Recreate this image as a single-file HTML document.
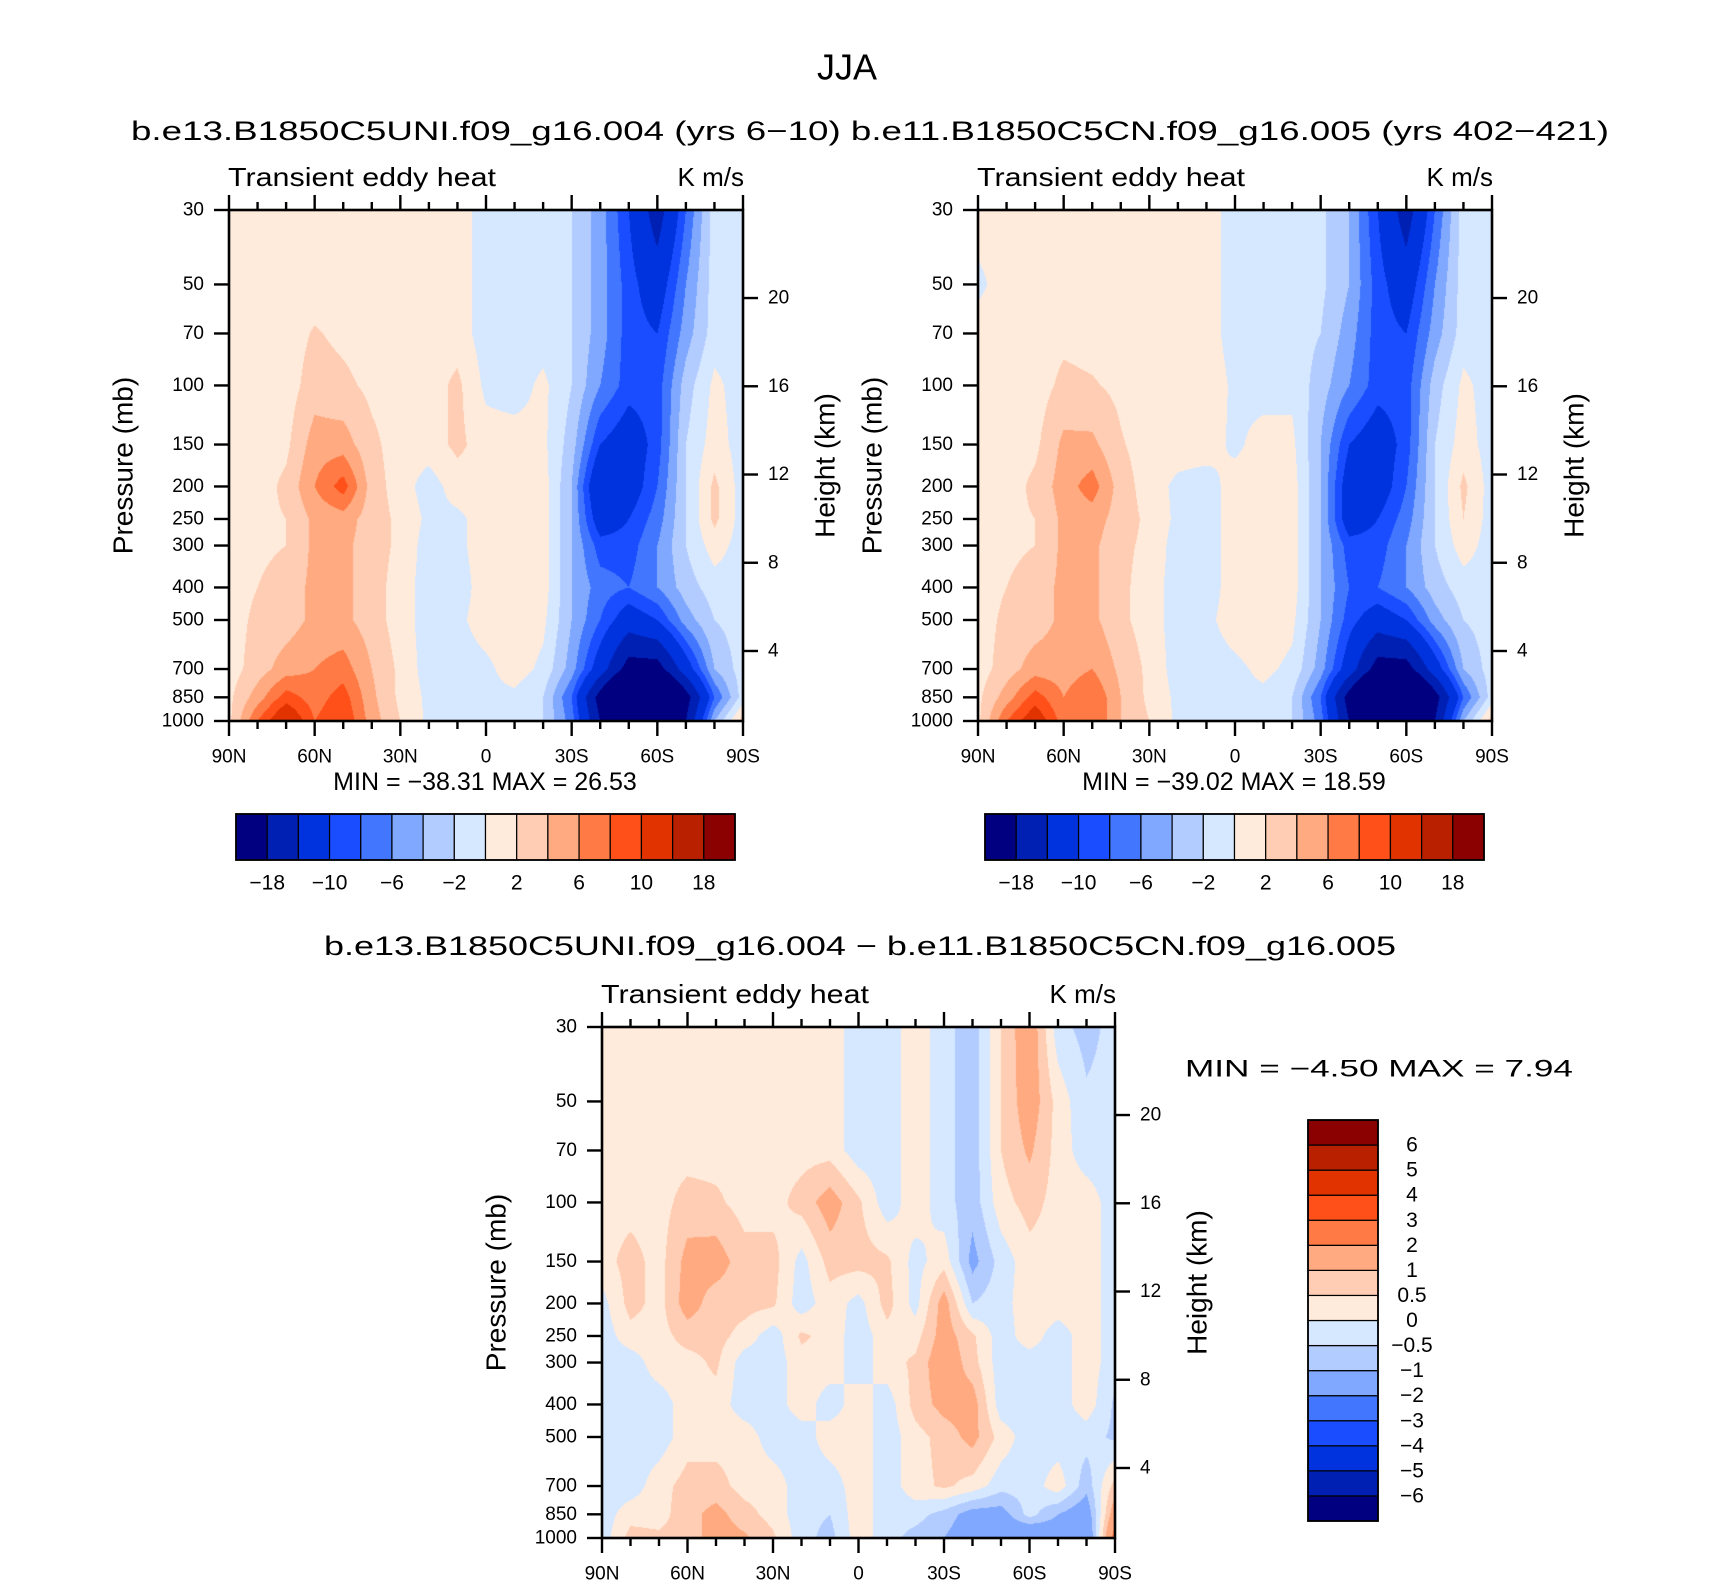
<!DOCTYPE html>
<html><head><meta charset="utf-8"><title>JJA Transient eddy heat</title>
<style>
html,body{margin:0;padding:0;background:#fff;}
#root{position:relative;width:1710px;height:1587px;overflow:hidden;background:#fff;}
canvas{position:absolute;}
svg{position:absolute;left:0;top:0;}
text{font-family:"Liberation Sans",sans-serif;fill:#000;}
</style></head>
<body>
<div id="root">
<canvas id="cA"></canvas>
<canvas id="cB"></canvas>
<canvas id="cC"></canvas>
<svg id="ov" width="1710" height="1587"></svg>
</div>
<script>
// ---- data ----
const lats = ["90N","80N","70N","60N","50N","40N","30N","20N","10N","0","10S","20S","30S","40S","50S","60S","70S","80S","90S"];
const plevs = [30,50,70,100,150,200,250,300,400,500,700,850,1000];
const pTickLabels = ["30","50","70","100","150","200","250","300","400","500","700","850","1000"];
const latTickLabels = ["90N","60N","30N","0","30S","60S","90S"];
const heightTicks = [4,8,12,16,20];
const levelsMain = [-18,-14,-10,-8,-6,-4,-2,0,2,4,6,8,10,14,18];
const levelsMainLabels = ["−18","","−10","","−6","","−2","","2","","6","","10","","18"];
const levelsDiff = [-6,-5,-4,-3,-2,-1,-0.5,0,0.5,1,2,3,4,5,6];
const levelsDiffLabels = ["−6","−5","−4","−3","−2","−1","−0.5","0","0.5","1","2","3","4","5","6"];
const palette = ["#000080","#0020b4","#0033dd","#1a4dff","#4276ff","#80a8ff","#b3ccff","#d6e8ff","#ffebdb","#ffcdb3","#ffaa80","#ff7a45","#ff5019","#e03300","#b82000","#8b0000"];

const panelA = [
[1,1,1,1,1,1,1,1,1,-1,-1,-1,-2,-5,-10,-16,-8,-1,-1],
[1,1,1,1,1,1,1,1,1,-1,-1,-1,-2,-5,-9,-12,-6,-1,-1],
[1,1,1,2.2,1.5,1,1,1,1,-1,-1,-1,-2,-5,-9,-10,-5,-1,-1],
[1,1,1,3,2.5,1.5,1,1,2.5,-0.5,-1,0.5,-2,-6,-9,-9,-3,0.5,-1],
[1,1,1.5,5,5,2.5,1,1,2.5,1,1,0.5,-3,-10,-12,-9,-2,1,-1],
[1,1,2.5,6,9,3,1,-1,1,1,1,1,-4,-14,-12,-8,-2,2.5,-1],
[1,1.5,2,4.5,5,3,1.5,-0.5,-0.5,1,1,1,-4,-12,-10,-7,-2,2.5,-1],
[1,1.5,2,4.5,4.5,3,1.5,-1,-0.5,1,1,1,-4,-9,-9,-6,-2,1,-1],
[1,2,3,4.5,4.5,3,1,-1,-1,1,1.5,1,-4,-7,-8,-6,-3,-1,-1],
[1,2.5,3,4.5,4.5,3,1,-1,-0.5,1,1.5,0.5,-4,-8,-12,-10,-5,-2,-1],
[1,3,5,6,7,4,1.5,-1,-1,-0.5,1,-0.5,-5,-12,-20,-20,-12,-4,-1],
[1.5,5,9,7,9,4.5,1.5,-0.5,-1,-0.5,-0.5,-2,-8,-20,-30,-30,-20,-8,-1],
[1.5,8,13,8,10,5,2,-0.5,-0.5,-0.5,-0.5,-2,-7,-18,-25,-25,-18,-4,3]
];
const panelB = [
[1,1,1,1,1,1,1,1,1,-1,-1,-1,-1.5,-4,-10,-16,-8,-1,-1],
[-0.5,1,1,1,1,1,1,1,1,-1,-1,-1,-1.5,-4,-9,-12,-6,-1,-1],
[1,1,1,1.5,1.2,1,1,1,1,-1,-1,-1,-2,-5,-9,-10,-5,-1,-1],
[1,1,1,2.5,2.2,1.5,1,1,1.5,-0.5,-1,-0.5,-3,-6,-9,-9,-3,0.5,-1],
[1,1,1.5,4.5,4.5,2.2,1,1,1,-0.5,1,0.5,-4,-10,-12,-9,-2,1,-1],
[1,1,2.5,5,7,3,1,-0.5,-1,1,1,1,-4,-12,-12,-8,-2,2.5,-1],
[1,1.5,2,4.5,5,3,1.5,-0.5,-1,1,1,1,-4,-12,-10,-7,-2,2,-1],
[1,1.5,2,4.5,4.5,2.5,1.5,-1,-1,1,1,1,-4,-9,-9,-6,-2,1,-1],
[1,2,3,4.5,4.5,2.5,1,-1,-1,1,1.5,1,-4,-8,-8,-6,-3,-1,-1],
[1,2.5,3,4.5,4.5,2.5,1,-1,-0.5,1,1.5,0.5,-4,-9,-12,-10,-5,-2,-1],
[1,3,5,5,6,3.5,1.5,-1,-1,-0.5,0.5,-0.5,-5,-12,-20,-20,-12,-4,-1],
[1.5,5,9,6,8,4,1.5,-0.5,-1,-0.5,-0.5,-2,-8,-20,-30,-30,-20,-8,-1],
[1.5,8,12,7,8,4,2,-0.5,-0.5,-0.5,-0.5,-2,-7,-18,-25,-25,-18,-4,3]
];
const panelC = [
[0.3,0.3,0.3,0.3,0.3,0.3,0.3,0.3,0.3,-0.3,-0.3,0.3,-0.3,-0.8,0.5,1.5,-0.3,-0.7,-0.3],
[0.3,0.3,0.3,0.3,0.3,0.3,0.3,0.3,0.3,-0.3,-0.3,0.3,-0.3,-0.8,0.5,1.4,0.3,-0.4,-0.3],
[0.3,0.3,0.3,0.3,0.3,0.3,0.3,0.3,0.3,-0.3,-0.3,0.3,-0.3,-0.8,0.5,1.1,0.3,-0.3,-0.3],
[0.3,0.3,0.3,0.7,0.6,0.3,0.3,0.7,1.3,0.6,-0.3,0.3,-0.3,-0.8,0.3,0.7,0.3,0.3,-0.3],
[0.3,0.7,0.3,1.2,1.3,0.7,0.7,-0.2,0.7,0.7,0.6,-0.2,0.3,-1.2,-0.3,0.3,0.3,0.3,-0.3],
[-0.2,0.7,0.3,1.3,0.7,0.7,0.6,-0.3,0.3,-0.2,0.7,-0.2,1.3,-0.5,-0.2,0.3,0.3,0.3,-0.3],
[-0.3,0.3,0.3,0.7,0.7,0.3,-0.3,0.6,0.3,-0.3,0.3,0.3,1.3,0.6,-0.3,0.3,-0.3,0.3,-0.3],
[-0.3,-0.3,0.3,0.3,0.6,-0.3,-0.3,0.3,0.3,-0.3,0.3,0.6,1.5,0.7,-0.3,-0.3,-0.3,0.3,-0.3],
[-0.3,-0.3,-0.3,0.3,0.3,-0.3,-0.3,0.3,-0.3,0.3,-0.3,0.7,1.2,1.3,-0.3,-0.3,-0.3,0.3,-0.6],
[-0.3,-0.3,-0.3,0.3,0.3,0.3,-0.3,-0.3,0.3,0.3,-0.3,0.3,0.7,1.2,0.3,-0.3,-0.3,-0.3,-0.6],
[-0.3,-0.3,0.3,0.7,0.7,0.3,0.3,-0.3,-0.3,0.3,-0.3,0.3,0.6,0.3,-0.3,-0.3,0.3,-0.8,0.7],
[-0.3,0.3,0.3,0.8,1.2,0.7,0.3,-0.3,-0.5,0.3,-0.3,-0.3,-0.7,-1.3,-1.3,-0.3,-1,-1.5,1.5],
[-0.3,0.7,0.6,0.7,1.3,1.1,0.6,-0.3,-0.7,0.3,-0.3,-0.7,-1,-1.5,-1.5,-2,-1.5,-2,2.5]
];

// ---- layout ----
const PW=514, PH=511;
const plots=[
 {id:"cA",x:229,y:210,w:PW,h:PH,data:panelA,levels:levelsMain,key:"case1"},
 {id:"cB",x:978,y:210,w:PW,h:PH,data:panelB,levels:levelsMain,key:"case2"},
 {id:"cC",x:602,y:1027,w:513,h:511,data:panelC,levels:levelsDiff,key:"diff"}
];
const LN=Math.log, lp0=LN(30), lp1=LN(1000);
function yFrac(p){return (LN(p)-lp0)/(lp1-lp0);}
function hFrac(h){return 0.863-(h-4)*0.04317;}
const rowFr=plevs.map(yFrac);

function valueAt(data,fx,fy){
  const cx=fx*(lats.length-1);
  let i=Math.min(Math.floor(cx),lats.length-2); const tx=cx-i;
  let j=0; while(j<rowFr.length-2 && fy>rowFr[j+1]) j++;
  let ty=(fy-rowFr[j])/(rowFr[j+1]-rowFr[j]); ty=Math.max(0,Math.min(1,ty));
  const a=data[j][i],b=data[j][i+1],c=data[j+1][i],d=data[j+1][i+1];
  return (a*(1-tx)+b*tx)*(1-ty)+(c*(1-tx)+d*tx)*ty;
}
function hex(c){return [parseInt(c.slice(1,3),16),parseInt(c.slice(3,5),16),parseInt(c.slice(5,7),16)];}
const palRGB=palette.map(hex);
function colorIdx(v,levels){let k=0;while(k<levels.length&&v>=levels[k])k++;return k;}

plots.forEach(P=>{
  const cv=document.getElementById(P.id);
  cv.width=P.w; cv.height=P.h; cv.style.left=P.x+"px"; cv.style.top=P.y+"px";
  const ctx=cv.getContext("2d"); const img=ctx.createImageData(P.w,P.h);
  for(let py=0;py<P.h;py++){
    const fy=(py+0.5)/P.h;
    for(let px=0;px<P.w;px++){
      const v=valueAt(P.data,(px+0.5)/P.w,fy);
      const c=palRGB[colorIdx(v,P.levels)];
      const o=(py*P.w+px)*4; img.data[o]=c[0];img.data[o+1]=c[1];img.data[o+2]=c[2];img.data[o+3]=255;
    }
  }
  ctx.putImageData(img,0,0);
});

// ---- overlay ----
const NS="http://www.w3.org/2000/svg";
const svg=document.getElementById("ov");
function el(tag,attrs,parent){const e=document.createElementNS(NS,tag);for(const k in attrs)e.setAttribute(k,attrs[k]);(parent||svg).appendChild(e);return e;}
function txt(s,x,y,size,anchor,parent,extra){const t=el("text",Object.assign({x:x,y:y,"font-size":size,"text-anchor":anchor||"middle","dominant-baseline":"central"},extra||{}),parent);t.textContent=s;return t;}

let t;
t=txt("JJA",847,67,36);


t=txt("b.e13.B1850C5UNI.f09_g16.004 (yrs 6−10) b.e11.B1850C5CN.f09_g16.005 (yrs 402−421)",870,131,27,"middle",null,{textLength:1478,lengthAdjust:"spacingAndGlyphs"});


t=txt("b.e13.B1850C5UNI.f09_g16.004 − b.e11.B1850C5CN.f09_g16.005",860,946,27,"middle",null,{textLength:1072,lengthAdjust:"spacingAndGlyphs"});



const minmax=[["MIN = −38.31   MAX =  26.53",485,782],["MIN = −39.02   MAX =  18.59",1234,782]];
minmax.forEach((m,i)=>{
  const tt=txt(m[0],m[1],m[2],25,"middle",null,{"xml:space":"preserve"});
  
  
});
t=txt("MIN =   −4.50   MAX =    7.94",1379,1069,24,"middle",null,{"xml:space":"preserve",textLength:388,lengthAdjust:"spacingAndGlyphs"});



plots.forEach(P=>{
  const g=el("g",{});
  
  
  const x0=P.x,y0=P.y,x1=P.x+P.w,y1=P.y+P.h;
  // header
  let a=txt("Transient eddy heat",x0-1,y0-33,26,"start",g,{textLength:268,lengthAdjust:"spacingAndGlyphs"});
  
  
  a=txt("K m/s",x1+1,y0-33,26,"end",g,{"xml:space":"preserve"});
  
  
  // frame
  el("rect",{x:x0,y:y0,width:P.w,height:P.h,fill:"none",stroke:"#000","stroke-width":2.6},g);
  // lat ticks
  for(let k=0;k<=18;k++){
    const x=x0+P.w*k/18, major=(k%3===0), L=major?15:8;
    el("line",{x1:x,y1:y0,x2:x,y2:y0-L,stroke:"#000","stroke-width":2.4},g);
    el("line",{x1:x,y1:y1,x2:x,y2:y1+L,stroke:"#000","stroke-width":2.4},g);
  }
  latTickLabels.forEach((s,k)=>{
    const lt=txt(s,x0+P.w*k/6,y1+36,19,"middle",g);
    
    
  });
  // pressure ticks
  plevs.forEach((p,k)=>{
    const y=y0+P.h*yFrac(p);
    el("line",{x1:x0,y1:y,x2:x0-15,y2:y,stroke:"#000","stroke-width":2.4},g);
    const pt=txt(pTickLabels[k],x0-25,y,19,"end",g);
    
    
  });
  heightTicks.forEach(h=>{
    const y=y0+P.h*hFrac(h);
    el("line",{x1:x1,y1:y,x2:x1+15,y2:y,stroke:"#000","stroke-width":2.4},g);
    const ht=txt(String(h),x1+25,y,19,"start",g);
    
    
  });
  const cy=y0+P.h*0.5;
  a=txt("Pressure  (mb)",x0-106,cy,28,"middle",g,{transform:`rotate(-90 ${x0-106} ${cy})`,"xml:space":"preserve"});
  
  
  a=txt("Height  (km)",x1+82,cy,28,"middle",g,{transform:`rotate(-90 ${x1+82} ${cy})`,"xml:space":"preserve"});
  
  
});

// horizontal colorbars
[236,985].forEach((bx,bi)=>{
  const g=el("g",{});
  
  
  const bw=499/16, by=814, bh=46;
  palette.forEach((c,k)=>{
    const r=el("rect",{x:bx+k*bw,y:by,width:bw,height:bh,fill:c,stroke:"#000","stroke-width":1.2},g);
    
    
  });
  levelsMain.forEach((lv,k)=>{
    if(!levelsMainLabels[k])return;
    const lt=txt(levelsMainLabels[k],bx+(k+1)*bw,by+bh+23,21,"middle",g);
    
    
  });
  el("rect",{x:bx,y:by,width:499,height:bh,fill:"none",stroke:"#000","stroke-width":1.8},g);
});
// vertical colorbar
(function(){
  const g=el("g",{});
  
  
  const bx=1308,by=1120,bw=70,bh=401/16;
  palette.forEach((c,k)=>{
    const r=el("rect",{x:bx,y:by+(15-k)*bh,width:bw,height:bh,fill:c,stroke:"#000","stroke-width":1.2},g);
    
    
  });
  levelsDiff.forEach((lv,k)=>{
    const lt=txt(levelsDiffLabels[k],1412,by+(15-k)*bh,21,"middle",g);
    
    
  });
  el("rect",{x:bx,y:by,width:bw,height:401,fill:"none",stroke:"#000","stroke-width":1.8},g);
})();
</script>
</body></html>
